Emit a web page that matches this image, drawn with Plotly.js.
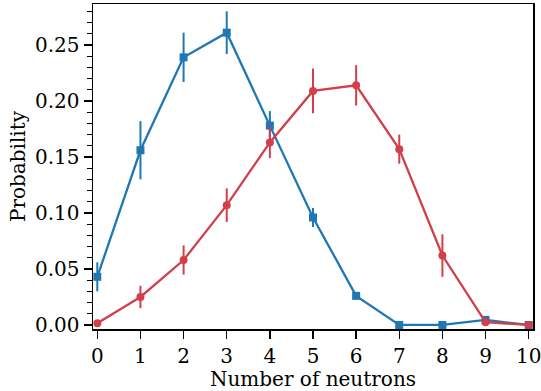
<!DOCTYPE html>
<html>
<head>
<meta charset="utf-8">
<script src="https://cdn.plot.ly/plotly-3.0.1.min.js"></script>
<style>html,body{margin:0;padding:0;background:#fff;}#chart{width:541px;height:391px;}</style>
</head>
<body>
<div id="chart"></div>
<script>
const neutrons = [0, 1, 2, 3, 4, 5, 6, 7, 8, 9, 10];
const blueProb = [0.043, 0.156, 0.239, 0.261, 0.178, 0.096, 0.026, 0.0, 0.0, 0.0045, 0.0];
const blueErr  = [0.013, 0.026, 0.022, 0.019, 0.013, 0.0085, 0.003, 0.0, 0.0, 0.002, 0.0];
const redProb  = [0.0015, 0.025, 0.058, 0.107, 0.163, 0.209, 0.214, 0.157, 0.062, 0.0025, 0.0];
const redErr   = [0.001, 0.010, 0.013, 0.015, 0.014, 0.020, 0.018, 0.013, 0.019, 0.002, 0.0];
const yTicks = [0.00, 0.05, 0.10, 0.15, 0.20, 0.25];
const yTickText = ['0.00', '0.05', '0.10', '0.15', '0.20', '0.25'];

const BLUE = '#1f77b4';
const RED = '#d1404a';
const FONT = 'DejaVu Serif, serif';

const traces = [
  {
    x: neutrons, y: blueProb, type: 'scatter', mode: 'lines+markers',
    line: {color: BLUE, width: 2.3},
    marker: {symbol: 'square', size: 8, color: BLUE},
    error_y: {type: 'data', array: blueErr, visible: true, color: BLUE, thickness: 2, width: 0},
    showlegend: false
  },
  {
    x: neutrons, y: redProb, type: 'scatter', mode: 'lines+markers',
    line: {color: RED, width: 2.3},
    marker: {symbol: 'circle', size: 8, color: RED},
    error_y: {type: 'data', array: redErr, visible: true, color: RED, thickness: 2, width: 0},
    showlegend: false
  }
];

const layout = {
  width: 541, height: 391,
  margin: {l: 93, r: 8, t: 4, b: 62},
  paper_bgcolor: '#fff', plot_bgcolor: '#fff',
  font: {family: FONT, size: 20, color: '#000'},
  xaxis: {
    range: [-0.1, 10.1], tickvals: neutrons, ticktext: neutrons.map(String),
    showgrid: false, zeroline: false,
    showline: true, mirror: true, linecolor: '#000', linewidth: 1.5,
    ticks: 'outside', ticklen: 8, tickwidth: 1.5, tickcolor: '#000',
    ticklabeloverflow: 'allow',
    tickfont: {family: FONT, size: 20},
    title: {text: 'Number of neutrons', font: {family: FONT, size: 20}, standoff: 2}
  },
  yaxis: {
    range: [-0.0036, 0.2866], tickvals: yTicks, ticktext: yTickText,
    showgrid: false, zeroline: false,
    showline: true, mirror: true, linecolor: '#000', linewidth: 1.5,
    ticks: 'outside', ticklen: 8, tickwidth: 1.5, tickcolor: '#000',
    minor: {dtick: 0.01, ticks: 'outside', ticklen: 5, tickwidth: 1.2, tickcolor: '#000', showgrid: false},
    tickfont: {family: FONT, size: 20},
    title: {text: 'Probability', font: {family: FONT, size: 20}, standoff: 4}
  }
};

Plotly.newPlot('chart', traces, layout, {displayModeBar: false, staticPlot: true});
</script>
</body>
</html>
